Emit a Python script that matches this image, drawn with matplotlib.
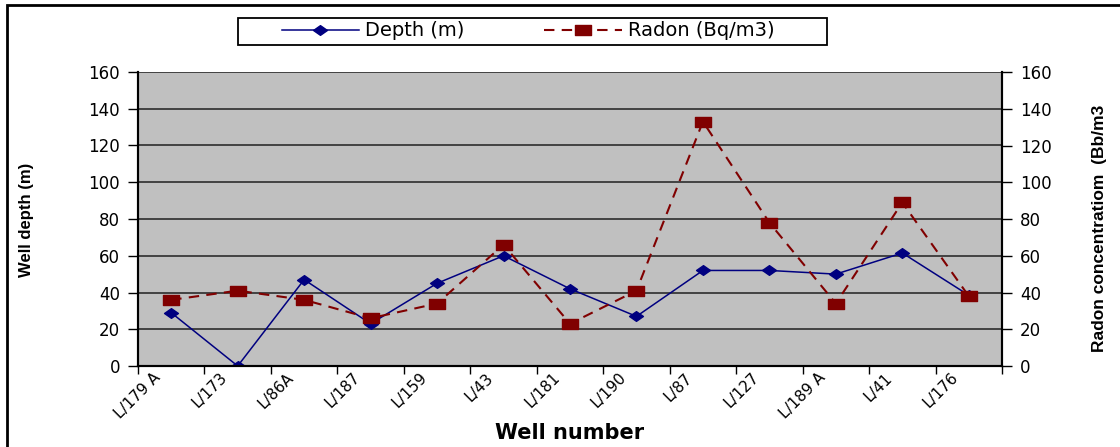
import numpy as np
import matplotlib
matplotlib.use("Agg")
import matplotlib.pyplot as plt
from matplotlib.patches import Rectangle
from matplotlib.path import Path
from matplotlib.transforms import ScaledTranslation

plt.rcParams['font.family'] = ['DejaVu Sans']

# well names along the x axis
wells = ['L/179 A', 'L/173', 'L/86A', 'L/187', 'L/159', 'L/43', 'L/181',
         'L/190', 'L/87', 'L/127', 'L/189 A', 'L/41', 'L/176']
# well depth (m), left axis
depth = [29, 0, 47, 23, 45, 60, 42, 27, 52, 52, 50, 61.5, 38.5]
# radon (Bq/m3), right axis
radon = [36, 41, 36, 26, 34, 66, 23, 41, 133, 78, 34, 89, 38]

yticks = [0, 20, 40, 60, 80, 100, 120, 140, 160]

# the original picture is stretched sideways, so are its markers
wide_diamond = Path([(-1, 0), (0, 0.7), (1, 0), (0, -0.7), (-1, 0)], closed=True)
wide_square = Path([(-1, -0.6), (1, -0.6), (1, 0.6), (-1, 0.6), (-1, -0.6)], closed=True)

fig = plt.figure(figsize=(11.2, 4.47), dpi=100)
ax = fig.add_axes([138/1120, 81/447, 864/1120, 294/447])
ax2 = ax.twinx()

x = np.arange(len(wells))
ax.set_facecolor('#C0C0C0')
ax.set_zorder(1)
ax2.set_zorder(2)
ax2.patch.set_visible(False)

for v in yticks:
    ax.axhline(v, color='#202020', lw=1.1, zorder=1)

l1, = ax.plot(x, depth, color='#000080', lw=1.1, marker=wide_diamond, ms=10,
              label='Depth (m)', zorder=3)
l2, = ax2.plot(x, radon, color='#800000', lw=1.5, ls=(0, (5, 3.5)),
               marker=wide_square, ms=11.5, label='Radon (Bq/m3)', zorder=3)

for a in (ax, ax2):
    a.set_xlim(-0.5, len(wells) - 0.5)
    a.set_ylim(0, 160)
    a.set_yticks(yticks)
    a.tick_params(axis='y', length=7, width=1, labelsize=12, pad=6)
    a.spines['top'].set_visible(False)
    for s in ('left', 'right', 'bottom'):
        a.spines[s].set_linewidth(1.5)

# category boundary ticks, labels at the centres
ax.set_xticks(np.arange(-0.5, len(wells)), minor=False)
ax.set_xticklabels([])
ax.set_xticks(x, minor=True)
ax.set_xticklabels(wells, minor=True, rotation=45, ha='right',
                   rotation_mode='anchor', fontsize=11)
ax.tick_params(axis='x', which='major', length=6, width=1)
ax.tick_params(axis='x', which='minor', length=0, pad=3)
shift = ScaledTranslation(-18/100, 0, fig.dpi_scale_trans)
for lab in ax.get_xticklabels(minor=True):
    lab.set_transform(lab.get_transform() + shift)

ax.set_ylabel('Well depth (m)', fontsize=12, fontweight='bold',
              family='Liberation Sans')
ax.yaxis.label.set_va('center')
ax.yaxis.set_label_coords(-0.1285, 0.497)
ax2.set_ylabel('Radon concentratiom  (Bb/m3', fontsize=12.5, fontweight='bold',
               family='Liberation Sans')
ax2.yaxis.label.set_va('center')
ax2.yaxis.set_label_coords(1.1134, 0.469)
ax.set_xlabel('Well number', fontsize=15, fontweight='bold')
ax.xaxis.label.set_va('center')
ax.xaxis.set_label_coords(0.5, -0.228)

leg = fig.legend([l1, l2], ['Depth (m)', 'Radon (Bq/m3)'], ncol=2,
                 loc='center', bbox_to_anchor=(528/1120, 1 - 31/447),
                 fontsize=14, frameon=False,
                 handlelength=4.0, columnspacing=4.1, borderpad=0.1,
                 handletextpad=0.3)

# legend frame and outer chart frame
fig.patches.append(Rectangle((238/1120, 1 - 45/447), 589/1120, 27/447,
                             transform=fig.transFigure, fill=False,
                             edgecolor='black', lw=1.3))
fig.patches.append(Rectangle((7/1120, -0.05), 1.1, 1 - 5/447 + 0.05,
                             transform=fig.transFigure, fill=False,
                             edgecolor='black', lw=2))

fig.savefig('out.png', dpi=100)
